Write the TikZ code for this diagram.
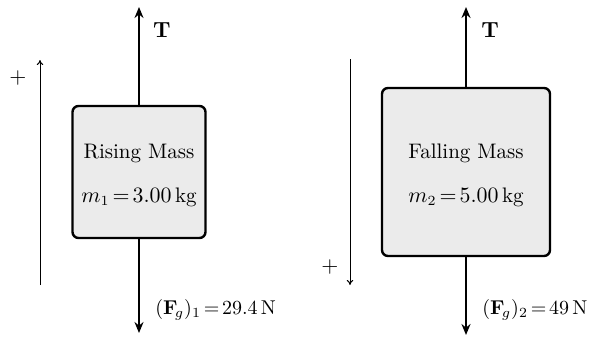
\documentclass[tikz,border=0pt]{standalone}
\usetikzlibrary{arrows.meta}
\thickmuskip=2.5mu plus 1mu
\begin{document}
\begin{tikzpicture}[x=0.5pt,y=-0.5pt,
  mass/.style={draw, line width=1.2pt, rounded corners=3pt, fill=black!8, inner sep=0pt},
  force/.style={line width=1pt, -{Stealth[length=5.5pt,width=4.5pt]}},
  dirarrow/.style={line width=0.5pt, -{To[length=2.5pt,width=3.2pt]}},
  lbl/.style={font=\fontsize{10.5}{12}\selectfont, inner sep=0pt},
  flbl/.style={font=\fontsize{10}{12}\selectfont, inner sep=0pt, anchor=west}]
\useasboundingbox (0,0) rectangle (592,337);
% left
\node[mass, minimum width=66.5pt, minimum height=66pt] (m1) at (139,172) {};
\node[lbl] (n1) at (139,153) {Rising Mass};
\node[lbl] (v1) at (139,197) {$m_1 = 3.00$\,kg};
\coordinate (t1) at (139,7);
\coordinate (g1) at (139,333);
\draw[force] (m1.north) -- (t1);
\draw[force] (m1.south) -- (g1);
\node[lbl, font=\fontsize{11}{12}\selectfont] (T1) at (162,30) {$\mathbf{T}$};
\node[flbl] (F1) at (155,310) {$(\mathbf{F}_{\!g})_1 = 29.4$\,N};
\coordinate (d1s) at (40,285);
\coordinate (d1e) at (40,60);
\draw[dirarrow] (d1s) -- (d1e);
\node[lbl] (p1) at (18,78) {$+$};
% right
\node[mass, minimum width=84pt, minimum height=84pt] (m2) at (466,172) {};
\node[lbl] (n2) at (466,153) {Falling Mass};
\node[lbl] (v2) at (466,197) {$m_2 = 5.00$\,kg};
\coordinate (t2) at (466,7);
\coordinate (g2) at (466,335);
\draw[force] (m2.north) -- (t2);
\draw[force] (m2.south) -- (g2);
\node[lbl, font=\fontsize{11}{12}\selectfont] (T2) at (490,30) {$\mathbf{T}$};
\node[flbl] (F2) at (482,310) {$(\mathbf{F}_{\!g})_2 = 49$\,N};
\coordinate (d2s) at (350,59);
\coordinate (d2e) at (350,285);
\draw[dirarrow] (d2s) -- (d2e);
\node[lbl] (p2) at (330,267) {$+$};
\end{tikzpicture}
\end{document}
